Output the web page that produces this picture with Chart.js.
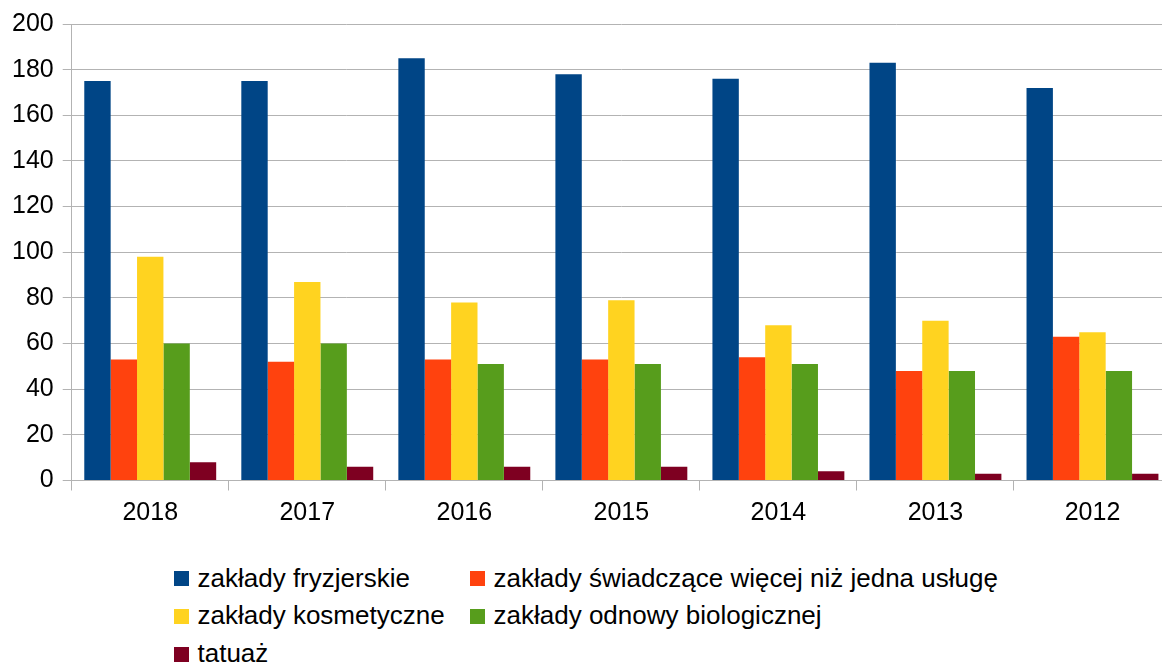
<!DOCTYPE html>
<html>
<head>
<meta charset="utf-8">
<script src="https://cdn.jsdelivr.net/npm/chart.js@4/dist/chart.umd.min.js"></script>
<style>
  html, body { margin: 0; padding: 0; background: #fff; overflow: hidden; width: 1162px; height: 664px; }
  #wrap { position: absolute; left: 0; top: 0; width: 1171px; height: 540px; }
  .box { position: absolute; width: 15px; height: 15px; }
  .txt { position: absolute; white-space: nowrap; font-family: "Liberation Sans", Arial, sans-serif; font-size: 26px; line-height: 26px; color: #000; }
</style>
</head>
<body>
<div id="wrap"><canvas id="c"></canvas></div>
<div id="legend"></div>
<script>
const categories = ["2018", "2017", "2016", "2015", "2014", "2013", "2012"];
const seriesNames = [
  "zakłady fryzjerskie",
  "zakłady świadczące więcej niż jedna usługę",
  "zakłady kosmetyczne",
  "zakłady odnowy biologicznej",
  "tatuaż"
];
const fryzjerskie = [175, 175, 185, 178, 176, 183, 172];
const swiadczace = [53, 52, 53, 53, 54, 48, 63];
const kosmetyczne = [98, 87, 78, 79, 68, 70, 65];
const odnowy = [60, 60, 51, 51, 51, 48, 48];
const tatuaz = [8, 6, 6, 6, 4, 3, 3];
const colors = ["#004586", "#ff420e", "#ffd320", "#579d1c", "#7e0021"];
const yTicks = [0, 20, 40, 60, 80, 100, 120, 140, 160, 180, 200];

const seriesData = [fryzjerskie, swiadczace, kosmetyczne, odnowy, tatuaz];

const FONT = "'Liberation Sans', Arial, sans-serif";

new Chart(document.getElementById('c'), {
  type: 'bar',
  data: {
    labels: categories,
    datasets: seriesData.map((d, i) => ({
      label: seriesNames[i],
      data: d,
      backgroundColor: colors[i],
      borderWidth: 0,
      categoryPercentage: 0.84,
      barPercentage: 1.0
    }))
  },
  options: {
    responsive: true,
    maintainAspectRatio: false,
    animation: false,
    layout: { padding: { top: 9.5, left: 3, right: 0, bottom: 3.5 } },
    plugins: { legend: { display: false }, tooltip: { enabled: false } },
    scales: {
      x: {
        grid: { offset: true, drawOnChartArea: false, drawTicks: true, tickLength: 10, color: '#b3b3b3', lineWidth: 1 },
        border: { color: '#b3b3b3', width: 1 },
        ticks: { color: '#000', font: { family: FONT, size: 25 }, padding: 8, maxRotation: 0 }
      },
      y: {
        min: 0, max: 200,
        afterBuildTicks: (axis) => { axis.ticks = yTicks.map(v => ({ value: v })); },
        grid: { color: '#b3b3b3', lineWidth: 1, tickLength: 9 },
        border: { color: '#b3b3b3', width: 1 },
        ticks: { color: '#000', font: { family: FONT, size: 25 }, padding: 9 }
      }
    }
  }
});

// legend (columns aligned, as in the reference)
const legend = document.getElementById('legend');
const layout = [[0, 1], [2, 3], [4]];
const colX = [174, 470];
layout.forEach((r, ri) => {
  const top = 571 + ri * 37.85;
  r.forEach((idx, col) => {
    const b = document.createElement('div');
    b.className = 'box';
    b.style.left = colX[col] + 'px';
    b.style.top = top + 'px';
    b.style.background = colors[idx];
    legend.appendChild(b);
    const t = document.createElement('div');
    t.className = 'txt';
    t.style.left = (colX[col] + 23.5) + 'px';
    t.style.top = (top - 6.5) + 'px';
    t.textContent = seriesNames[idx];
    legend.appendChild(t);
  });
});
</script>
</body>
</html>
